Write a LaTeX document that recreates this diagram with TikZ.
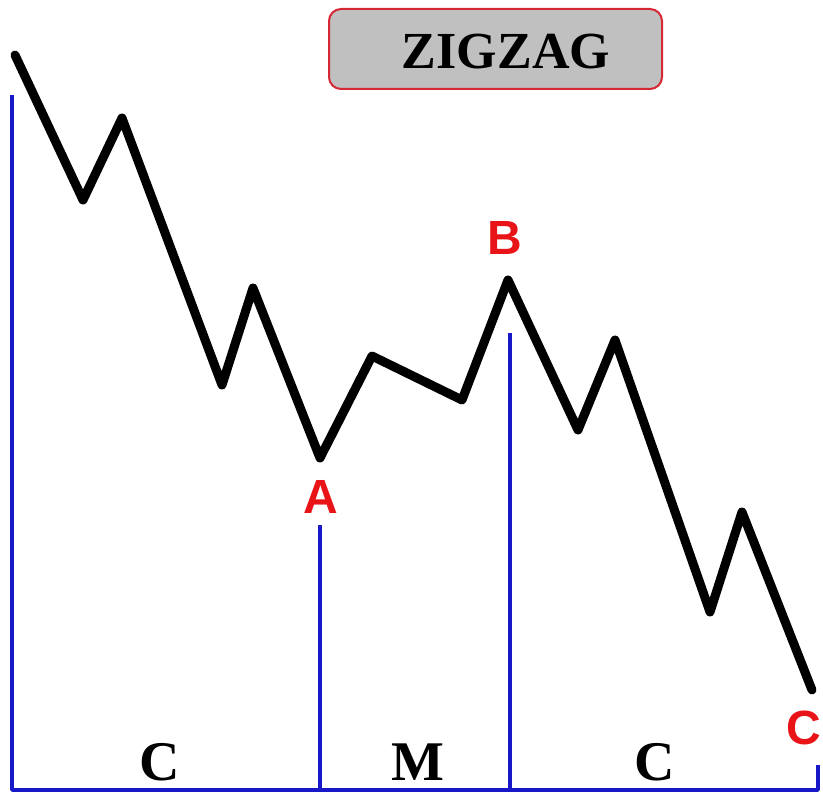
\documentclass[tikz,border=0pt]{standalone}
\usepackage{fontspec}
\setmainfont{Liberation Serif}
\newfontfamily\ptfont{Liberation Sans}
\definecolor{ptred}{RGB}{232,20,24}
\definecolor{legblue}{RGB}{24,24,200}
\definecolor{boxgray}{RGB}{192,192,192}
\definecolor{boxred}{RGB}{214,40,52}
\begin{document}
\begin{tikzpicture}[x=1pt,y=-1pt,line join=round,line cap=round]
\useasboundingbox (0,0) rectangle (823,794);
\node[draw=boxred,line width=2pt,fill=boxgray,rounded corners=12pt,minimum width=333pt,minimum height=80pt] (title) at (495.5,49) {};
\node (titletext) at (506,52) {\fontsize{52}{56}\selectfont\bfseries ZIGZAG};
% the wave
\foreach \n/\x/\y in {0/15/55,1/83/200,2/122/118,3/222/385,4/253/288,5/320/458,6/372/356,7/462/400,8/508/280,9/578/430,10/615/340,11/710/612,12/742/512,13/812/690}
  \coordinate (w\n) at (\x,\y);
\draw[line width=9pt] (w0) \foreach \n in {1,...,13}{ -- (w\n)};
% turning points
\node[text=ptred,font=\ptfont\bfseries\fontsize{48}{50}\selectfont] (A) at (321,497) {A};
\node[text=ptred,font=\ptfont\bfseries\fontsize{48}{50}\selectfont] (B) at (505,238) {B};
\node[text=ptred,font=\ptfont\bfseries\fontsize{48}{50}\selectfont] (C) at (804,728) {C};
% legs
\coordinate (o) at (12,790);
\coordinate (top0) at (12,95);
\coordinate (topA) at (320,525);
\coordinate (topB) at (510,333);
\coordinate (topC) at (818,765);
\draw[legblue,line width=3.5pt,line cap=butt] (top0) |- (topC |- o) -- (topC);
\draw[legblue,line width=3.5pt,line cap=butt] (topA) -- (topA |- o);
\draw[legblue,line width=3.5pt,line cap=butt] (topB) -- (topB |- o);
\node[font=\bfseries\fontsize{56}{58}\selectfont] (leg1) at (160,762) {C};
\node[font=\bfseries\fontsize{56}{58}\selectfont] (leg2) at (418,762) {M};
\node[font=\bfseries\fontsize{56}{58}\selectfont] (leg3) at (655,762) {C};
\end{tikzpicture}
\end{document}
